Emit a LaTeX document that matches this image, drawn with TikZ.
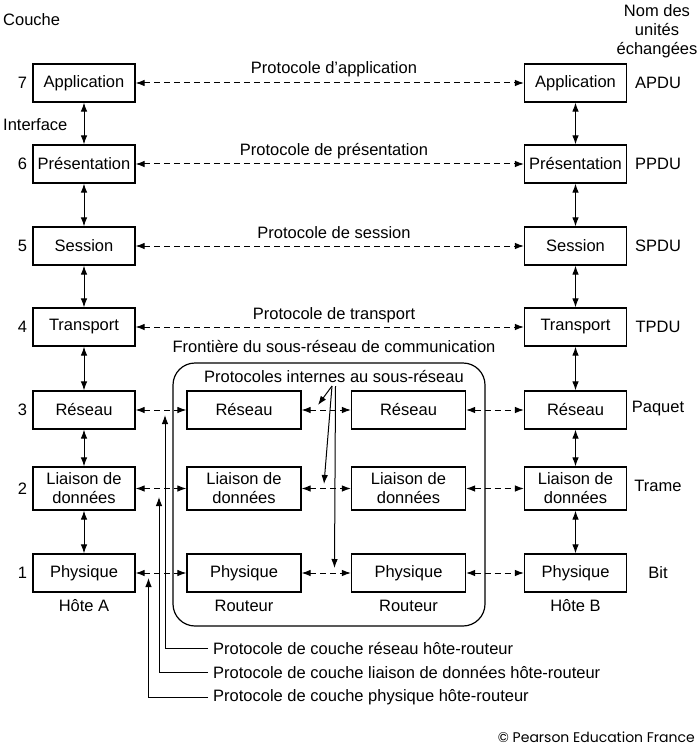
\documentclass[tikz,border=0pt]{standalone}
\usepackage{fontspec}
\setmainfont{Liberation Sans}
\newfontfamily\copyfont{Poppins}
\usetikzlibrary{arrows.meta}
\newcommand\fs{\fontsize{16.5}{19}\selectfont}
\tikzset{
  layer/.style={draw, line width=1.2pt, minimum height=38pt, inner sep=0pt, align=center, font=\fs},
  hostbox/.style={layer, minimum width=102pt},
  routbox/.style={layer, minimum width=114pt},
  tall/.style={minimum height=43pt},
  lbl/.style={font=\fs, inner sep=0pt, align=center},
  tipa/.tip={Latex[length=9pt,width=6.5pt]},
  protodash/.style={line width=1pt, dash pattern=on 6pt off 4pt, tipa-tipa},
  updown/.style={line width=1pt, tipa-tipa},
  leader/.style={line width=1pt, -tipa},
}
\begin{document}
\begin{tikzpicture}[x=1pt,y=-1pt]
\useasboundingbox (0,0) rectangle (698,746);
% host A
\node[hostbox] (A7) at (84,83) {Application};
\node[hostbox] (A6) at (84,164) {Présentation};
\node[hostbox] (A5) at (84,246) {Session};
\node[hostbox] (A4) at (84,327) {Transport};
\node[hostbox] (A3) at (84,410) {Réseau};
\node[hostbox,tall] (A2) at (84,488.5) {Liaison de\\données};
\node[hostbox] (A1) at (84,573) {Physique};
% host B
\node[hostbox] (B7) at (575.5,83) {Application};
\node[hostbox] (B6) at (575.5,164) {Présentation};
\node[hostbox] (B5) at (575.5,246) {Session};
\node[hostbox] (B4) at (575.5,327) {Transport};
\node[hostbox] (B3) at (575.5,410) {Réseau};
\node[hostbox,tall] (B2) at (575.5,488.5) {Liaison de\\données};
\node[hostbox] (B1) at (575.5,573) {Physique};
% routers
\node[routbox] (R3) at (244,410) {Réseau};
\node[routbox,tall] (R2) at (244,488.5) {Liaison de\\données};
\node[routbox] (R1) at (244,573) {Physique};
\node[routbox] (S3) at (408.5,410) {Réseau};
\node[routbox,tall] (S2) at (408.5,488.5) {Liaison de\\données};
\node[routbox] (S1) at (408.5,573) {Physique};
% subnet frame
\node[draw, line width=1.2pt, rounded corners=22pt, minimum width=312pt, minimum height=263pt, inner sep=0pt] (sub) at (329,494.5) {};
% vertical interfaces
\foreach \a/\b in {7/6,6/5,5/4,4/3,3/2,2/1}{
  \draw[updown] (A\a) -- (A\b);
  \draw[updown] (B\a) -- (B\b);
}
% peer protocols
\foreach \i in {7,6,5,4}{ \draw[protodash] (A\i) -- (B\i); }
\foreach \i in {3,2,1}{
  \draw[protodash] (A\i) -- (R\i);
  \draw[protodash] (R\i) -- (S\i);
  \draw[protodash] (S\i) -- (B\i);
}
% labels
\node[lbl] (p7) at (334,69) {Protocole d’application};
\node[lbl] (p6) at (334,151) {Protocole de présentation};
\node[lbl] (p5) at (334,233) {Protocole de session};
\node[lbl] (p4) at (334,315) {Protocole de transport};
\node[lbl] (fr) at (334,347) {Frontière du sous-réseau de communication};
\node[lbl] (pi) at (334,377) {Protocoles internes au sous-réseau};
\node[lbl,anchor=west] (couche) at (3,20) {Couche};
\node[lbl,anchor=west] (iface) at (3,125) {Interface};
\node[lbl] (nom) at (657,31) {Nom des\\unités\\échangées};
\foreach \i/\y in {7/83,6/164,5/246,4/327,3/410,2/488.5,1/573}{ \node[lbl] (n\i) at (22.5,\y) {\i}; }
\node[lbl] (u7) at (658,83) {APDU};
\node[lbl] (u6) at (658,164) {PPDU};
\node[lbl] (u5) at (658,246) {SPDU};
\node[lbl] (u4) at (658,327) {TPDU};
\node[lbl] (u3) at (658,409) {Paquet};
\node[lbl] (u2) at (658,486) {Trame};
\node[lbl] (u1) at (658,573) {Bit};
\node[lbl] (hA) at (84,606) {Hôte A};
\node[lbl] (r1) at (244,606) {Routeur};
\node[lbl] (r2) at (408.5,606) {Routeur};
\node[lbl] (hB) at (575.5,606) {Hôte B};
% internal protocol pointers
\coordinate (o1) at (332,386);
\coordinate (o2) at (335.5,386);
\coordinate (t3) at (318,405);
\coordinate (t2) at (324,484);
\coordinate (t1) at (334.5,568);
\draw[leader] (o1) -- (t3);
\draw[leader] (o1) -- (t2);
\draw[leader] (o2) -- (t1);
% host-router protocol leaders
\node[lbl,anchor=west] (h3) at (213,648) {Protocole de couche réseau hôte-routeur};
\node[lbl,anchor=west] (h2) at (213,672) {Protocole de couche liaison de données hôte-routeur};
\node[lbl,anchor=west] (h1) at (213,697) {Protocole de couche physique hôte-routeur};
\coordinate (e3) at (165,415);
\coordinate (e2) at (159,497);
\coordinate (e1) at (148.5,578);
\draw[leader] ([xshift=-5pt]h3.west) -| (e3);
\draw[leader] ([xshift=-5pt]h2.west) -| (e2);
\draw[leader] ([xshift=-5pt]h1.west) -| (e1);
\node[anchor=east, inner sep=0pt, font=\copyfont\fontsize{14}{16}\selectfont] (copy) at (695,737) {© Pearson Education France};
\end{tikzpicture}
\end{document}
